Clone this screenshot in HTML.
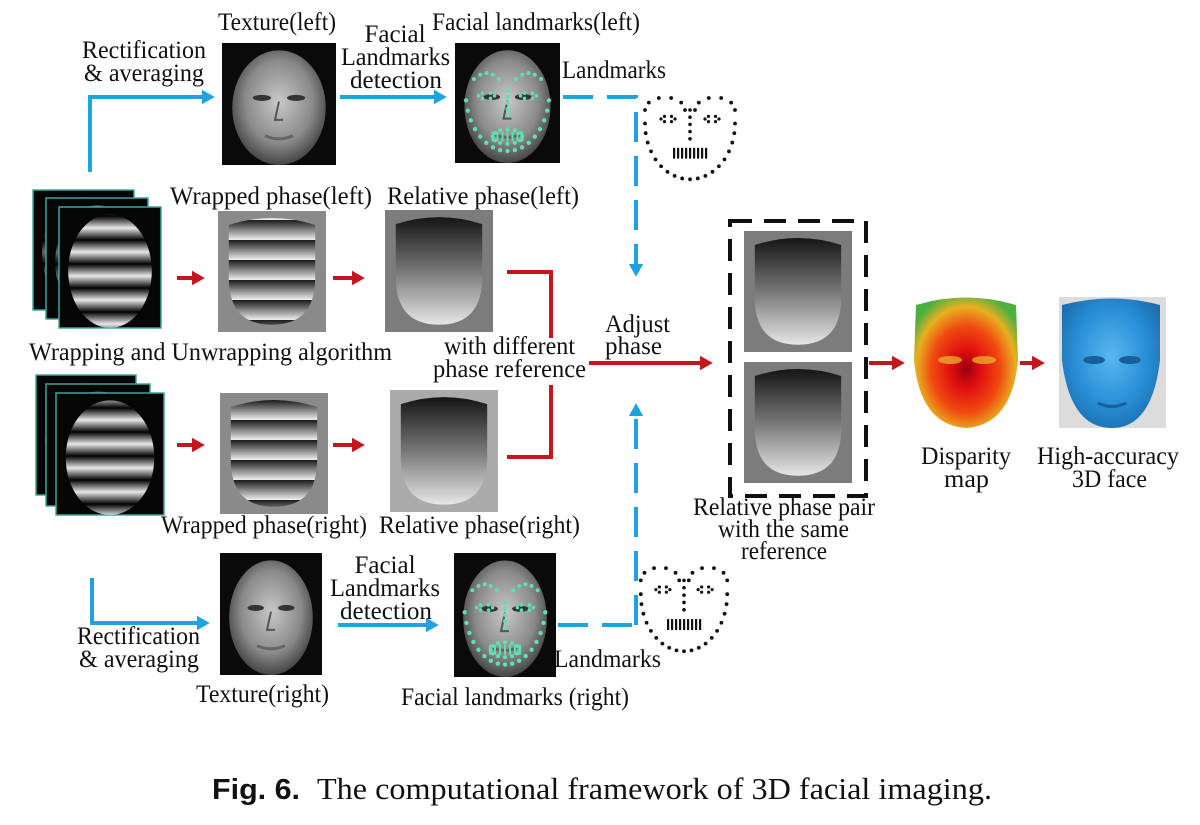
<!DOCTYPE html>
<html><head><meta charset="utf-8"><style>
html,body{margin:0;padding:0;background:#fff;}
svg{display:block;}
text{font-family:"Liberation Serif",serif;fill:#111;}
</style></head><body>
<svg id="fig" width="1200" height="825" viewBox="0 0 1200 825" xmlns="http://www.w3.org/2000/svg">
<defs>
<radialGradient id="gFace" cx="50%" cy="45%" r="60%"><stop offset="0" stop-color="#c8c8c8"/><stop offset="0.6" stop-color="#8a8a8a"/><stop offset="1" stop-color="#333"/></radialGradient>
<linearGradient id="gBand" x1="0" y1="0" x2="0" y2="1"><stop offset="0" stop-color="#000"/><stop offset="0.5" stop-color="#e8e8e8"/><stop offset="1" stop-color="#000"/></linearGradient>
<pattern id="pFringe" width="10" height="24" patternUnits="userSpaceOnUse"><rect width="10" height="24" fill="url(#gBand)"/></pattern>
<linearGradient id="gSaw" x1="0" y1="0" x2="0" y2="1"><stop offset="0" stop-color="#1a1a1a"/><stop offset="1" stop-color="#f0f0f0"/></linearGradient>
<pattern id="pSaw" width="10" height="20" patternUnits="userSpaceOnUse"><rect width="10" height="20" fill="url(#gSaw)"/></pattern>
<linearGradient id="gRel" x1="0" y1="0" x2="0" y2="1"><stop offset="0" stop-color="#151515"/><stop offset="0.5" stop-color="#777"/><stop offset="1" stop-color="#e6e6e6"/></linearGradient>
<radialGradient id="gDisp" cx="50%" cy="55%" r="60%"><stop offset="0" stop-color="#9a0010"/><stop offset="0.25" stop-color="#e01010"/><stop offset="0.55" stop-color="#f04a10"/><stop offset="0.8" stop-color="#e8b020"/><stop offset="1" stop-color="#4cb040"/></radialGradient>
<radialGradient id="g3d" cx="50%" cy="45%" r="60%"><stop offset="0" stop-color="#5ab8f0"/><stop offset="0.6" stop-color="#2a90d8"/><stop offset="1" stop-color="#1a6fb0"/></radialGradient>
<marker id="aBlue" markerWidth="4" markerHeight="4" refX="2" refY="2" orient="auto" markerUnits="strokeWidth"><path d="M0,0.2 L3.2,2 L0,3.8 Z" fill="#1fa3e0"/></marker>
<marker id="aRed" markerWidth="4" markerHeight="4" refX="2" refY="2" orient="auto" markerUnits="strokeWidth"><path d="M0,0.2 L3.2,2 L0,3.8 Z" fill="#c4161c"/></marker>
</defs>
</svg>
<script>
const NS='http://www.w3.org/2000/svg';
const svg=document.getElementById('fig');
function mk(tag,attrs,parent){const e=document.createElementNS(NS,tag);for(const k in attrs)e.setAttribute(k,attrs[k]);(parent||svg).appendChild(e);return e;}
function faceEllipse(x,y,w,h){return {cx:x+w/2,cy:y+h*0.53,rx:w*0.41,ry:h*0.47};}
function tongue(x,y,w,h){
  const l=x+w*0.1,r=x+w*0.9,t=y+h*0.05,b=y+h*0.94;
  return `M${l},${t+8} Q${x+w/2},${t-6} ${r},${t+8} L${r},${y+h*0.55} Q${r},${b} ${x+w/2},${b} Q${l},${b} ${l},${y+h*0.55} Z`;
}
function texture(x,y,w,h,name){
  const g=mk('g',{});
  
  
  mk('rect',{x:x,y:y,width:w,height:h,fill:'#0a0a0a'},g);
  const f=faceEllipse(x,y,w,h);
  mk('ellipse',Object.assign({fill:'url(#gFace)'},f),g);
  mk('ellipse',{cx:f.cx-w*0.15,cy:y+h*0.45,rx:w*0.08,ry:h*0.025,fill:'#333'},g);
  mk('ellipse',{cx:f.cx+w*0.15,cy:y+h*0.45,rx:w*0.08,ry:h*0.025,fill:'#333'},g);
  mk('path',{d:`M${f.cx},${y+h*0.48} L${f.cx-4},${y+h*0.63} L${f.cx+4},${y+h*0.63}`,stroke:'#555',fill:'none','stroke-width':2},g);
  mk('path',{d:`M${f.cx-14},${y+h*0.76} Q${f.cx},${y+h*0.81} ${f.cx+14},${y+h*0.76}`,stroke:'#666',fill:'none','stroke-width':3},g);
  return g;
}
function landmarkImg(x,y,w,h,name){
  const g=texture(x,y,w,h,name);
  const cx=x+w/2;
  for(let i=0;i<=16;i++){const a=Math.PI*(0.05+0.9*i/16);mk('circle',{cx:cx-Math.cos(a)*w*0.4,cy:y+h*0.4+Math.sin(a)*h*0.5,r:2.2,fill:'#5fe0b0'},g);}
  for(let s of [-1,1]){
    for(let i=0;i<5;i++){mk('circle',{cx:cx+s*(w*0.08+i*w*0.06),cy:y+h*0.3-Math.sin(i/4*Math.PI)*6,r:2,fill:'#5fe0b0'},g);}
    for(let i=0;i<6;i++){const a=i/6*2*Math.PI;mk('circle',{cx:cx+s*w*0.2+Math.cos(a)*8,cy:y+h*0.44+Math.sin(a)*3,r:1.8,fill:'#5fe0b0'},g);}
  }
  for(let i=0;i<5;i++)mk('circle',{cx:cx,cy:y+h*(0.4+i*0.05),r:2,fill:'#5fe0b0'},g);
  for(let i=0;i<12;i++){const a=i/12*2*Math.PI;mk('circle',{cx:cx+Math.cos(a)*w*0.14,cy:y+h*0.78+Math.sin(a)*h*0.06,r:2,fill:'#5fe0b0'},g);}
  for(let i=-3;i<=3;i++)mk('rect',{x:cx+i*5-1,y:y+h*0.74,width:2,height:h*0.08,fill:'#5fe0b0'},g);
}
function dotFace(x,y,w,h,name){
  const g=mk('g',{});
  
  
  const cx=x+w/2;
  for(let i=0;i<=18;i++){const a=Math.PI*(0.0+1.0*i/18);mk('circle',{cx:cx-Math.cos(a)*w*0.45,cy:y+h*0.35+Math.sin(a)*h*0.62,r:1.9,fill:'#111'},g);}
  for(let s of [-1,1]){
    for(let i=0;i<6;i++){const a=Math.PI*(1+i/5);mk('circle',{cx:cx+s*w*0.25+Math.cos(a)*w*0.2,cy:y+h*0.2+Math.sin(a)*h*0.14,r:1.9,fill:'#111'},g);}
    for(let i=0;i<6;i++){const a=i/6*2*Math.PI;mk('circle',{cx:cx+s*w*0.22+Math.cos(a)*7,cy:y+h*0.3+Math.sin(a)*3,r:1.6,fill:'#111'},g);}
  }
  for(let i=0;i<5;i++)mk('circle',{cx:cx,cy:y+h*(0.2+i*0.08),r:1.8,fill:'#111'},g);
  for(let i=-4;i<=4;i++)mk('rect',{x:cx+i*4-1,y:y+h*0.62,width:2.2,height:h*0.12,fill:'#111'},g);
}
function fringeStack(frames,name){
  const g=mk('g',{});
  
  
  frames.forEach((f,i)=>{
    mk('rect',{x:f[0],y:f[1],width:f[2],height:f[3],fill:'#050505',stroke:'#3aa7a0','stroke-width':1.5},g);
    const e=faceEllipse(f[0],f[1],f[2],f[3]);
    mk('ellipse',Object.assign({fill:'url(#pFringe)',opacity:i==2?1:0.45},e),g);
  });
}
function wrapped(x,y,w,h,name){
  const g=mk('g',{});
  
  
  mk('rect',{x:x,y:y,width:w,height:h,fill:'#8a8a8a'},g);
  mk('path',{d:tongue(x,y,w,h),fill:'url(#pSaw)'},g);
}
function relative(x,y,w,h,bg,name){
  const g=mk('g',{});
  
  
  mk('rect',{x:x,y:y,width:w,height:h,fill:bg},g);
  mk('path',{d:tongue(x,y,w,h),fill:'url(#gRel)'},g);
}
function line(pts,color,marker,dash,name){
  const p=mk('polyline',{points:pts,fill:'none',stroke:color,'stroke-width':4,'stroke-dasharray':dash||'none'});
  if(marker)p.setAttribute('marker-end',marker);
  
  
}
function label(txt,x,y,len,size,name,anchor){
  const t=mk('text',{x:x,y:y,'font-size':size||22,'text-anchor':anchor||'start'});
  if(len){t.setAttribute('textLength',len);t.setAttribute('lengthAdjust','spacingAndGlyphs');}
  t.textContent=txt;
  
  
  return t;
}
const B='#1fa3e0',R='#c4161c';
texture(222,43,114,122,'texture-left-image');
landmarkImg(455,43,105,120,'landmarks-left-image');
dotFace(640,92,100,90,'landmark-dots-left');
line('90,172 90,97 210,97',B,'url(#aBlue)',null,'rectify-arrow-left');
line('340,97 442,97',B,'url(#aBlue)',null,'detect-arrow-left');
line('563,97 636,97 636,272',B,'url(#aBlue)','30,14','landmarks-dashed-left');
fringeStack([[33,190,101,120],[46,198,102,121],[59,207,102,121]],'fringe-stack-left');
fringeStack([[36,375,100,120],[46,384,104,122],[56,393,108,122]],'fringe-stack-right');
wrapped(218,211,108,121,'wrapped-phase-left-image');
relative(385,210,108,122,'#7c7c7c','relative-phase-left-image');
wrapped(220,393,108,121,'wrapped-phase-right-image');
relative(390,390,108,122,'#aaaaaa','relative-phase-right-image');
line('177,278 200,278',R,'url(#aRed)',null,'arrow-stack-to-wrapped-left');
line('333,278 360,278',R,'url(#aRed)',null,'arrow-wrapped-to-relative-left');
line('177,445 200,445',R,'url(#aRed)',null,'arrow-stack-to-wrapped-right');
line('333,445 360,445',R,'url(#aRed)',null,'arrow-wrapped-to-relative-right');
line('507,272 551,272 551,338',R,null,null,'bracket-top');
line('551,385 551,457 507,457',R,null,null,'bracket-bottom');
line('589,363 708,363',R,'url(#aRed)',null,'adjust-phase-arrow');
line('636,625 636,408',B,'url(#aBlue)','30,14','landmarks-dashed-right');
const box=mk('rect',{x:730,y:221,width:136,height:275,fill:'none',stroke:'#111','stroke-width':4,'stroke-dasharray':'22,12'});


relative(744,231,108,121,'#7c7c7c','phase-pair-top-image');
relative(744,362,108,121,'#7c7c7c','phase-pair-bottom-image');
line('869,363 900,363',R,'url(#aRed)',null,'arrow-to-disparity');
const dg=mk('g',{});


mk('path',{d:'M916,305 Q966,290 1016,305 L1018,360 Q1012,425 966,428 Q920,425 914,360 Z',fill:'url(#gDisp)'},dg);
mk('ellipse',{cx:950,cy:360,rx:12,ry:4,fill:'#e8c030',opacity:0.7},dg);
mk('ellipse',{cx:984,cy:360,rx:12,ry:4,fill:'#e8c030',opacity:0.7},dg);
line('1020,363 1040,363',R,'url(#aRed)',null,'arrow-to-3d-face');
const tg=mk('g',{});


mk('rect',{x:1059,y:297,width:107,height:131,fill:'#dcdcdc'},tg);
mk('path',{d:'M1062,305 Q1112,292 1160,305 L1160,360 Q1152,428 1112,428 Q1070,428 1062,360 Z',fill:'url(#g3d)'},tg);
mk('ellipse',{cx:1094,cy:360,rx:11,ry:4,fill:'#1a5f9a'},tg);
mk('ellipse',{cx:1130,cy:360,rx:11,ry:4,fill:'#1a5f9a'},tg);
mk('path',{d:'M1098,403 Q1112,410 1126,403',stroke:'#1a5f9a','stroke-width':3,fill:'none'},tg);
texture(220,553,102,122,'texture-right-image');
landmarkImg(454,553,102,124,'landmarks-right-image');
dotFace(636,562,96,92,'landmark-dots-right');
line('92,578 92,623 205,623',B,'url(#aBlue)',null,'rectify-arrow-right');
line('338,625 434,625',B,'url(#aBlue)',null,'detect-arrow-right');
line('558,625 636,625',B,null,'30,14','landmarks-dashed-right-horizontal');
label('Texture(left)',218,30,118,25,'texture-left-label');
label('Rectification',82,58,124,25,'rectification-label-top');
label('& averaging',84,81,120,25,'averaging-label-top');
label('Facial',395,42,null,25,'facial-label-top','middle');
label('Landmarks',341,65,109,25,'landmarks-detection-label-top');
label('detection',350,88,92,25,'detection-label-top');
label('Facial landmarks(left)',432,30,208,25,'facial-landmarks-left-label');
label('Landmarks',562,78,104,25,'landmarks-label-top');
label('Wrapped phase(left)',170,204,202,25,'wrapped-phase-left-label');
label('Relative phase(left)',387,204,192,25,'relative-phase-left-label');
label('Wrapping and Unwrapping algorithm',29,360,363,25,'algorithm-label');
label('with different',444,354,131,25,'different-reference-label-1');
label('phase reference',433,377,153,25,'different-reference-label-2');
label('Adjust',605,332,65,25,'adjust-label');
label('phase',605,354,57,25,'phase-label');
label('Wrapped phase(right)',161,533,206,25,'wrapped-phase-right-label');
label('Relative phase(right)',379,533,201,25,'relative-phase-right-label');
label('Relative phase pair',693,515,182,25,'phase-pair-label-1');
label('with the same',718,537,131,25,'phase-pair-label-2');
label('reference',741,559,86,25,'phase-pair-label-3');
label('Disparity',921,464,90,25,'disparity-label');
label('map',944,487,45,25,'map-label');
label('High-accuracy',1037,464,142,25,'high-accuracy-label');
label('3D face',1072,487,75,25,'3d-face-label');
label('Facial',385,573,null,25,'facial-label-bottom','middle');
label('Landmarks',330,596,110,25,'landmarks-detection-label-bottom');
label('detection',340,619,92,25,'detection-label-bottom');
label('Rectification',77,644,123,25,'rectification-label-bottom');
label('& averaging',79,667,120,25,'averaging-label-bottom');
label('Landmarks',554,667,107,25,'landmarks-label-bottom');
label('Texture(right)',196,702,133,25,'texture-right-label');
label('Facial landmarks (right)',401,705,228,25,'facial-landmarks-right-label');
const f=mk('text',{x:212,y:799,'font-size':29,'font-weight':'bold',textLength:88,lengthAdjust:'spacingAndGlyphs',style:'font-family:"Liberation Sans",sans-serif'});
f.textContent='Fig. 6.';


label('The computational framework of 3D facial imaging.',317,799,675,31,'caption-text');
</script>
</body></html>
